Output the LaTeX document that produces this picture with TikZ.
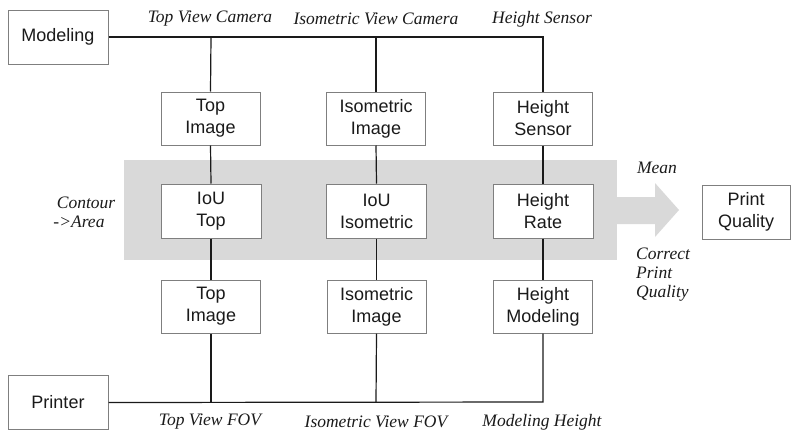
\documentclass[tikz,border=0pt]{standalone}
\usepackage{fontspec}
\setmainfont{Liberation Sans}
\newfontfamily\lblfont{Liberation Serif}
\definecolor{bandgray}{HTML}{D9D9D9}
\definecolor{boxline}{HTML}{7F7F7F}
\definecolor{txt}{HTML}{1A1A1A}
\begin{document}
\begin{tikzpicture}[x=1pt,y=-1pt,
  blk/.style={draw=boxline,line width=1pt,fill=white,minimum width=100pt,minimum height=54pt,inner sep=0pt,align=center,text=txt,font=\fontsize{18}{22}\selectfont},
  lbl/.style={inner sep=0pt,text=txt,font=\lblfont\itshape\fontsize{17.5}{19}\selectfont},
  wire/.style={draw=txt,line width=1.2pt}]
\useasboundingbox (0,0) rectangle (791,431);
% band and arrow
\fill[bandgray] (124,160) rectangle (617,260);
\fill[bandgray] (616,197) -- (655,197) -- (655,183) -- (679,210) -- (655,237) -- (655,224) -- (616,224) -- cycle;
% coordinates for wire corners
\coordinate (ctop) at (543,37);
\coordinate (cbot) at (543,402);
\coordinate (t1) at (211,37);
\coordinate (t2) at (376,37);
\coordinate (b1) at (211,402);
\coordinate (b2) at (376,402);
% nodes
\node[blk] (model) at (58,37) {Modeling};
\node[blk] (printer) at (58,402.5) {Printer};
\node[blk,minimum width=99pt,minimum height=53pt] (ti1) at (210.5,118.5) {Top\\Image};
\node[blk,minimum width=99pt,minimum height=53pt] (ii1) at (376,118.5) {Isometric\\Image};
\node[blk,minimum width=99pt,minimum height=53pt] (hs) at (543,118.5) {Height\\Sensor};
\node[blk] (iout) at (211,211) {IoU\\Top};
\node[blk] (ioui) at (376.5,211) {IoU\\Isometric};
\node[blk] (hr) at (543,211) {Height\\Rate};
\node[blk,minimum width=99pt,minimum height=53pt] (ti2) at (211,306.5) {Top\\Image};
\node[blk,minimum width=99pt,minimum height=53pt] (ii2) at (376.5,306.5) {Isometric\\Image};
\node[blk,minimum width=99pt,minimum height=53pt] (hm) at (543,306.5) {Height\\Modeling};
\node[blk,minimum width=88pt] (pq) at (746,212) {Print\\Quality};
% wires
\draw[wire] (model.east) -- (ctop) -- (hs.north);
\draw[wire] (t1) -- (ti1.north);
\draw[wire] (t2) -- (ii1.north);
\draw[wire] (ti1.south) -- (iout.north);
\draw[wire] (ii1.south) -- (ioui.north);
\draw[wire] (hs.south) -- (hr.north);
\draw[wire] (iout.south) -- (ti2.north);
\draw[wire] (ioui.south) -- (ii2.north);
\draw[wire] (hr.south) -- (hm.north);
\draw[wire] (printer.east) -- (cbot) -- (hm.south);
\draw[wire] (b1) -- (ti2.south);
\draw[wire] (b2) -- (ii2.south);
% labels
\node[lbl] (l1) at (210,19) {Top View Camera};
\node[lbl] (l2) at (376,19) {Isometric View Camera};
\node[lbl] (l3) at (542,19) {Height Sensor};
\node[lbl,align=center] (l4) at (86,212) {Contour\\\hspace*{-14pt}->Area};
\node[lbl] (l5) at (657,168) {Mean};
\node[lbl,align=left,anchor=west] (l6) at (636,275) {Correct\\Print\\Quality};
\node[lbl] (l7) at (210,422) {Top View FOV};
\node[lbl] (l8) at (376,422) {Isometric View FOV};
\node[lbl] (l9) at (542,422) {Modeling Height};
\end{tikzpicture}
\end{document}
